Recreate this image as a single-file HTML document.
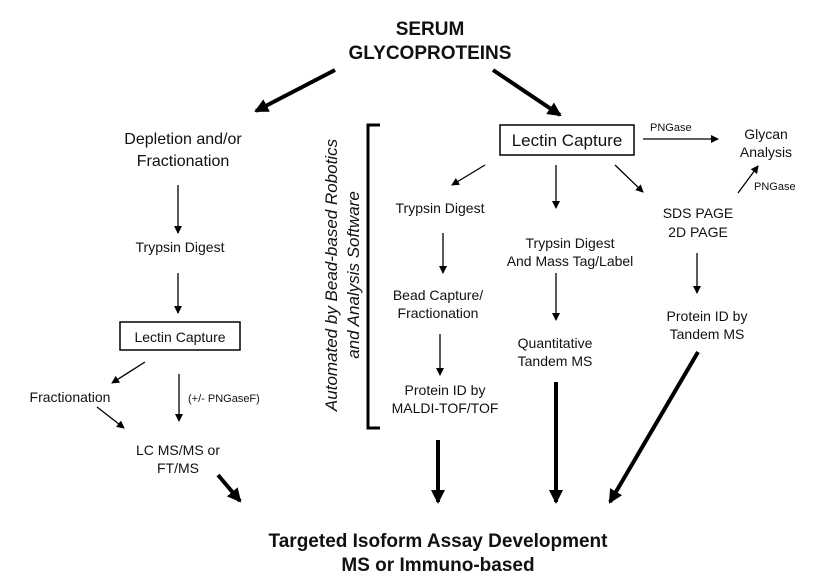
<!DOCTYPE html>
<html><head><style>
body{margin:0;background:#fff}
svg text{font-family:"Liberation Sans",sans-serif;fill:#111}
</style></head><body>
<svg width="820" height="575" viewBox="0 0 820 575" xmlns="http://www.w3.org/2000/svg">
<defs>
<marker id="a" markerWidth="8" markerHeight="8" refX="7" refY="4" orient="auto" markerUnits="userSpaceOnUse"><path d="M0,0 L8,4 L0,8 z" fill="#000"/></marker>
<marker id="b" markerWidth="14" markerHeight="14" refX="12" refY="7" orient="auto" markerUnits="userSpaceOnUse"><path d="M0,0 L14,7 L0,14 z" fill="#000"/></marker>
</defs>
<g text-anchor="middle">
<text x="430" y="35" font-size="19" font-weight="bold">SERUM</text>
<text x="430" y="59" font-size="19" font-weight="bold">GLYCOPROTEINS</text>
<text x="183" y="144" font-size="16">Depletion and/or</text>
<text x="183" y="166" font-size="16">Fractionation</text>
<text x="180" y="252" font-size="14">Trypsin Digest</text>
<text x="180" y="342" font-size="14">Lectin Capture</text>
<text x="70" y="402" font-size="14">Fractionation</text>
<text x="178" y="455" font-size="14">LC MS/MS or</text>
<text x="178" y="473" font-size="14">FT/MS</text>
<text x="567" y="146" font-size="17">Lectin Capture</text>
<text x="440" y="213" font-size="14">Trypsin Digest</text>
<text x="438" y="300" font-size="14">Bead Capture/</text>
<text x="438" y="318" font-size="14">Fractionation</text>
<text x="445" y="395" font-size="14">Protein ID by</text>
<text x="445" y="413" font-size="14">MALDI-TOF/TOF</text>
<text x="570" y="248" font-size="14">Trypsin Digest</text>
<text x="570" y="266" font-size="14">And Mass Tag/Label</text>
<text x="555" y="348" font-size="14">Quantitative</text>
<text x="555" y="366" font-size="14">Tandem MS</text>
<text x="698" y="218" font-size="14">SDS PAGE</text>
<text x="698" y="237" font-size="14">2D PAGE</text>
<text x="707" y="321" font-size="14">Protein ID by</text>
<text x="707" y="339" font-size="14">Tandem MS</text>
<text x="766" y="139" font-size="14">Glycan</text>
<text x="766" y="157" font-size="14">Analysis</text>
<text x="438" y="547" font-size="19" font-weight="bold">Targeted Isoform Assay Development</text>
<text x="438" y="571" font-size="19" font-weight="bold">MS or Immuno-based</text>
</g>
<text x="188" y="402" font-size="11">(+/- PNGaseF)</text>
<text x="650" y="131" font-size="11">PNGase</text>
<text x="754" y="190" font-size="11">PNGase</text>
<g transform="translate(343,275) rotate(-90)" text-anchor="middle" font-style="italic" font-size="17">
<text x="0" y="-6" font-style="italic">Automated by Bead-based Robotics</text>
<text x="0" y="16" font-style="italic">and Analysis Software</text>
</g>
<rect x="120" y="322" width="120" height="28" fill="none" stroke="#000" stroke-width="1.5"/>
<rect x="500" y="125" width="134" height="30" fill="none" stroke="#000" stroke-width="1.5"/>
<path d="M380,125 H368 V428 H380" fill="none" stroke="#000" stroke-width="3"/>
<g stroke="#000" stroke-width="1.3" marker-end="url(#a)">
<line x1="178" y1="185" x2="178" y2="233"/>
<line x1="178" y1="273" x2="178" y2="313"/>
<line x1="145" y1="362" x2="112" y2="383"/>
<line x1="179" y1="374" x2="179" y2="421"/>
<line x1="97" y1="407" x2="124" y2="428"/>
<line x1="485" y1="165" x2="452" y2="185"/>
<line x1="443" y1="233" x2="443" y2="273"/>
<line x1="440" y1="334" x2="440" y2="375"/>
<line x1="556" y1="165" x2="556" y2="208"/>
<line x1="556" y1="273" x2="556" y2="320"/>
<line x1="615" y1="165" x2="643" y2="192"/>
<line x1="697" y1="253" x2="697" y2="293"/>
<line x1="643" y1="139" x2="718" y2="139"/>
<line x1="738" y1="193" x2="758" y2="166"/>
</g>
<g stroke="#000" stroke-width="4" marker-end="url(#b)">
<line x1="335" y1="70" x2="256" y2="111"/>
<line x1="493" y1="70" x2="560" y2="115"/>
<line x1="218" y1="475" x2="240" y2="501"/>
<line x1="438" y1="440" x2="438" y2="502"/>
<line x1="556" y1="382" x2="556" y2="502"/>
<line x1="698" y1="352" x2="610" y2="502"/>
</g>
</svg>
</body></html>
